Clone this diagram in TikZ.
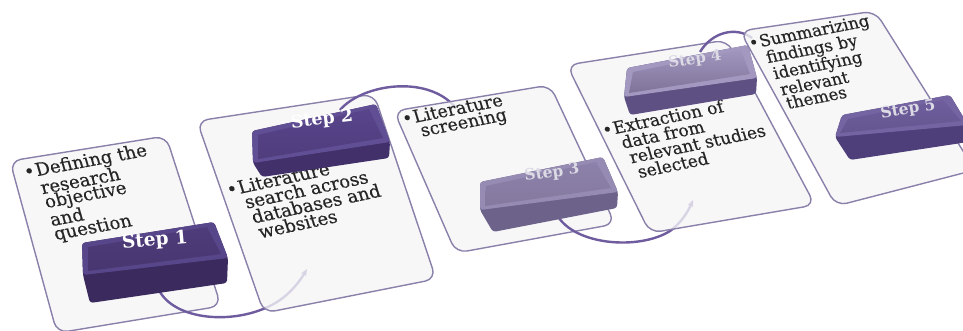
\documentclass[tikz,border=0pt]{standalone}
\usepackage{fontspec}
\setmainfont{DejaVu Serif}
\newfontfamily\panelfont[FakeBold=0.45]{DejaVu Serif}
\usetikzlibrary{arrows.meta,calc}

\definecolor{panelline}{HTML}{8A80AA}
\definecolor{panelfill}{HTML}{F6F6F7}
\definecolor{loopcol}{HTML}{6E5C9E}
\definecolor{txtcol}{HTML}{262626}
\definecolor{labelgray}{HTML}{DCDAE4}

\definecolor{kArim}{HTML}{58468A}\definecolor{kAtop}{HTML}{4E3C7B}\definecolor{kAbot}{HTML}{47366F}\definecolor{kAfront}{HTML}{3A2A5E}
\definecolor{kBrim}{HTML}{614F95}\definecolor{kBtop}{HTML}{58458B}\definecolor{kBbot}{HTML}{4F3D7D}\definecolor{kBfront}{HTML}{41306A}
\definecolor{kCrim}{HTML}{968BB2}\definecolor{kCtop}{HTML}{8C81AA}\definecolor{kCbot}{HTML}{85799F}\definecolor{kCfront}{HTML}{6D6289}
\definecolor{kDrim}{HTML}{A398C0}\definecolor{kDtop}{HTML}{A096BE}\definecolor{kDbot}{HTML}{807399}\definecolor{kDfront}{HTML}{5E5083}
\definecolor{kErim}{HTML}{7464A2}\definecolor{kEtop}{HTML}{6E5E9D}\definecolor{kEbot}{HTML}{65558F}\definecolor{kEfront}{HTML}{4E3F7B}

\newcommand{\drawkey}[2]{% #1 key coordinate prefix, #2 colour prefix
  \fill[#2front, rounded corners=3pt] (#1tl) -- (#1tr) -- (#1rm) -- (#1br) -- (#1bl) -- (#1lm) -- cycle;
  \fill[#2rim, rounded corners=3pt] (#1tl) -- (#1tr) -- (#1rm) -- (#1lm) -- cycle;
  \shade[top color=#2top, bottom color=#2bot] ($(#1tl)+(6,4)$) -- ($(#1tr)+(-7,5)$) -- ($(#1rm)+(-7,-4)$) -- ($(#1lm)+(5,-4)$) -- cycle;
}

\begin{document}
\begin{tikzpicture}[x=1pt,y=-1pt,
  panel/.style={draw=panelline, line width=1.4pt, fill=panelfill, fill opacity=0.78, rounded corners=11pt},
  loopline/.style={draw=loopcol, line width=2.4pt},
  ptext/.style={anchor=north west, inner sep=0pt, align=left, text=txtcol},
  steplabel/.style={inner sep=0pt},
]
\useasboundingbox (0,0) rectangle (963,330);
\fill[white] (0,0) rectangle (963,330);

% panel corners
\coordinate (p1tl) at (10,161);  \coordinate (p1tr) at (166,136); \coordinate (p1br) at (221,306); \coordinate (p1bl) at (57,333);
\coordinate (p2tl) at (197,121); \coordinate (p2tr) at (374,94);  \coordinate (p2br) at (436,279); \coordinate (p2bl) at (264,313);
\coordinate (p3tl) at (394,111); \coordinate (p3tr) at (550,85);  \coordinate (p3br) at (615,224); \coordinate (p3bl) at (456,253);
\coordinate (p4tl) at (567,65);  \coordinate (p4tr) at (727,40);  \coordinate (p4br) at (815,205); \coordinate (p4bl) at (650,233);
\coordinate (p5tl) at (740,31);  \coordinate (p5tr) at (875,11);  \coordinate (p5br) at (975,170); \coordinate (p5bl) at (836,206);

% key corners
\coordinate (k1tl) at (82,243);  \coordinate (k1tr) at (214,222); \coordinate (k1rm) at (228,258); \coordinate (k1br) at (227,283); \coordinate (k1bl) at (90,303);  \coordinate (k1lm) at (83,275);
\coordinate (k2tl) at (252,131); \coordinate (k2tr) at (376,104); \coordinate (k2rm) at (390,142); \coordinate (k2br) at (389,158); \coordinate (k2bl) at (262,177); \coordinate (k2lm) at (253,163);
\coordinate (k3tl) at (480,182); \coordinate (k3tr) at (603,157); \coordinate (k3rm) at (618,192); \coordinate (k3br) at (617,208); \coordinate (k3bl) at (493,232); \coordinate (k3lm) at (480,210);
\coordinate (k4tl) at (627,68);  \coordinate (k4tr) at (748,45);  \coordinate (k4rm) at (757,78);  \coordinate (k4br) at (756,94);  \coordinate (k4bl) at (630,115); \coordinate (k4lm) at (624,97);
\coordinate (k5tl) at (842,115); \coordinate (k5tr) at (950,95);  \coordinate (k5rm) at (968,125); \coordinate (k5br) at (968,142); \coordinate (k5bl) at (850,160); \coordinate (k5lm) at (835,137);

% loop end points
\coordinate (l1a) at (160,292); \coordinate (l1b) at (307,269);
\coordinate (l2a) at (340,110); \coordinate (l2b) at (456,108);
\coordinate (l3a) at (557,215); \coordinate (l3b) at (693,200);
\coordinate (l4a) at (700,52);  \coordinate (l4b) at (752,38);

% ---- step 1
\draw[panel] (p1tl) -- (p1tr) -- (p1br) -- (p1bl) -- cycle;
\node[ptext, font=\panelfont\fontsize{18}{14.5}\selectfont, rotate=10.5, xslant=-0.1] (t1) at (33.2,162.8)
  {\llap{•\kern1pt}Defining the\\research\\objective\\and\\question};
\draw[loopline, -{Stealth[length=7pt,width=6pt]}] (l1a) .. controls (178,322) and (240,325) .. (277,302) .. controls (290,294) and (300,281) .. (l1b);
\drawkey{k1}{kA}
\node[steplabel, text=white, rotate=5, font=\bfseries\fontsize{18.5}{18.5}\selectfont] (s1) at (155,241) {Step 1};

% ---- step 2
\draw[panel] (p2tl) -- (p2tr) -- (p2br) -- (p2bl) -- cycle;
\node[ptext, font=\panelfont\fontsize{18}{16}\selectfont, rotate=12, xslant=-0.1] (t2) at (235.8,180.9)
  {\llap{•\kern1pt}Literature\\\hspace*{2pt}search across\\\hspace*{4pt}databases and\\\hspace*{6pt}websites};
\draw[loopline] (l2a) .. controls (362,84) and (428,74) .. (l2b);
\drawkey{k2}{kB}
\node[steplabel, text=white, rotate=6.5, font=\bfseries\fontsize{17.5}{17.5}\selectfont] (s2) at (322,120) {Step 2};

% ---- step 3
\draw[panel] (p3tl) -- (p3tr) -- (p3br) -- (p3bl) -- cycle;
\node[ptext, font=\panelfont\fontsize{17.5}{15}\selectfont, rotate=11, xslant=-0.1] (t3) at (411.2,110.2)
  {\llap{•\kern1pt}Literature\\\hspace*{3pt}screening};
\draw[loopline, -{Stealth[length=7pt,width=6pt]}] (l3a) .. controls (575,246) and (640,250) .. (670,231) .. controls (680,224) and (688,212) .. (l3b);
\drawkey{k3}{kC}
\node[steplabel, text=labelgray, rotate=7.5, font=\bfseries\fontsize{15.5}{15.5}\selectfont] (s3) at (552,173) {Step 3};

% ---- step 4
\draw[panel] (p4tl) -- (p4tr) -- (p4br) -- (p4bl) -- cycle;
\node[ptext, font=\panelfont\fontsize{17}{16}\selectfont, rotate=11.5, xslant=-0.1] (t4) at (611,121.5)
  {\llap{•\kern1pt}Extraction of\\\hspace*{3.5pt}data from\\\hspace*{7pt}relevant studies\\\hspace*{10.5pt}selected};
\draw[loopline] (l4a) .. controls (712,32) and (736,26) .. (l4b);
\drawkey{k4}{kD}
\node[steplabel, text=labelgray, rotate=8.5, font=\bfseries\fontsize{15}{15}\selectfont] (s4) at (695,60) {Step 4};

% ---- step 5
\draw[panel] (p5tl) -- (p5tr) -- (p5br) -- (p5bl) -- cycle;
\node[ptext, font=\panelfont\fontsize{16.5}{14.5}\selectfont, rotate=11, xslant=-0.1] (t5) at (757.4,35)
  {\llap{•\kern1pt}Summarizing\\\hspace*{2pt}findings by\\\hspace*{4pt}identifying\\\hspace*{6pt}relevant\\\hspace*{8pt}themes};
\drawkey{k5}{kE}
\node[steplabel, text=labelgray, rotate=10, font=\bfseries\fontsize{15.5}{15.5}\selectfont] (s5) at (908,110) {Step 5};
\end{tikzpicture}
\end{document}
